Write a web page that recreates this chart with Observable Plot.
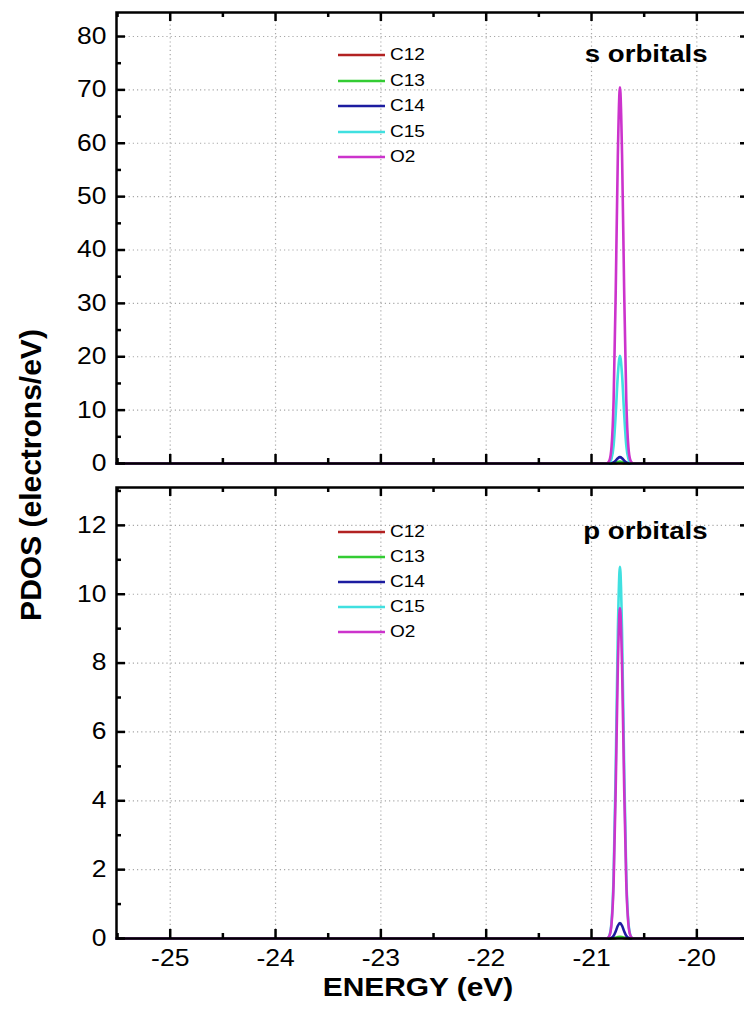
<!DOCTYPE html>
<html>
<head>
<meta charset="utf-8">
<script src="https://cdn.jsdelivr.net/npm/d3@7"></script>
<script src="https://cdn.jsdelivr.net/npm/@observablehq/plot@0.6"></script>
<style>
  html, body { margin: 0; padding: 0; background: #fff; overflow: hidden; }
  #wrap { position: relative; width: 744px; height: 1010px; overflow: hidden; font-family: "Liberation Sans", Arial, sans-serif; }
  .panel { position: absolute; left: 0; }
  .ylab { position: absolute; left: 31px; top: 475px; transform: translate(-50%, -50%) rotate(-90deg); font-weight: bold; font-size: 30px; white-space: nowrap; }
  .legend { position: absolute; left: 338px; font-size: 17px; }
  .legend .row { position: absolute; left: 0; display: flex; align-items: center; white-space: nowrap; transform: translateY(-50%); }
  .legend svg { margin-right: 5px; }
</style>
</head>
<body>
<div id="wrap"></div>
<script>
// ---------- data ----------
const seriesNames = ["C12", "C13", "C14", "C15", "O2"];
const seriesColors = ["#b22222", "#33cc33", "#1c1ca0", "#40e0e0", "#cc33cc"];

const energy = [-25.51, -20.87, -20.85, -20.83, -20.81, -20.79, -20.77, -20.75, -20.73, -20.71, -20.69, -20.67, -20.65, -20.63, -20.61, -20.59, -19.5];

// s orbitals
const sC12 = [0, 0, 0, 0, 0, 0.01, 0.02, 0.04, 0.05, 0.04, 0.02, 0.01, 0, 0, 0, 0, 0];
const sC13 = [0, 0, 0, 0, 0.02, 0.06, 0.16, 0.29, 0.35, 0.29, 0.16, 0.06, 0.02, 0, 0, 0, 0];
const sC14 = [0, 0, 0, 0.01, 0.05, 0.2, 0.55, 1.0, 1.2, 1.0, 0.55, 0.2, 0.05, 0.01, 0, 0, 0];
const sC15 = [0, 0, 0.02, 0.16, 0.9, 3.4, 9.3, 16.6, 20.2, 16.6, 9.3, 3.4, 0.9, 0.16, 0.02, 0, 0];
const sO2  = [0, 0, 0.06, 0.55, 3.1, 12, 32.4, 57.8, 70.5, 57.8, 32.4, 12, 3.1, 0.55, 0.06, 0, 0];

// p orbitals
const pC12 = [0, 0, 0, 0, 0, 0, 0.01, 0.02, 0.02, 0.02, 0.01, 0, 0, 0, 0, 0, 0];
const pC13 = [0, 0, 0, 0, 0, 0.01, 0.02, 0.04, 0.05, 0.04, 0.02, 0.01, 0, 0, 0, 0, 0];
const pC14 = [0, 0, 0, 0, 0.02, 0.08, 0.21, 0.37, 0.45, 0.37, 0.21, 0.08, 0.02, 0, 0, 0, 0];
const pC15 = [0, 0, 0.01, 0.09, 0.48, 1.84, 5.0, 8.9, 10.8, 8.9, 5.0, 1.84, 0.48, 0.09, 0.01, 0, 0];
const pO2  = [0, 0, 0.01, 0.08, 0.42, 1.63, 4.4, 7.9, 9.6, 7.9, 4.4, 1.63, 0.42, 0.08, 0.01, 0, 0];

// axes
const xDomain = [-25.51, -19.5];
const xTicks = [-25, -24, -23, -22, -21, -20];
const xMinor = [-25.5, -24.5, -23.5, -22.5, -21.5, -20.5, -19.5];
const sYDomain = [0, 84.5];
const sYTicks = [0, 10, 20, 30, 40, 50, 60, 70, 80];
const sYMinor = [5, 15, 25, 35, 45, 55, 65, 75];
const pYDomain = [0, 13.1];
const pYTicks = [0, 2, 4, 6, 8, 10, 12];
const pYMinor = [1, 3, 5, 7, 9, 11, 13];

const xLabel = "ENERGY (eV)";
const yLabel = "PDOS (electrons/eV)";
const sTitle = "s orbitals";
const pTitle = "p orbitals";

// ---------- build ----------
function toRows(arrays) {
  const rows = [];
  seriesNames.forEach((name, k) => {
    energy.forEach((e, i) => rows.push({series: name, e, v: arrays[k][i]}));
  });
  return rows;
}
const sRows = toRows([sC12, sC13, sC14, sC15, sO2]);
const pRows = toRows([pC12, pC13, pC14, pC15, pO2]);

const W = 744, ML = 116, MR = -5, MT = 12;
const innerW = W - ML - MR;
const innerH = 451;
const MAJ = 9, MIN = 5, TW = 2.5;
const STRETCH = 1.15;

function panel({rows, yDomain, yTicks, yMinor, title, titleDy, marginBottom, showX}) {
  const height = MT + innerH + marginBottom;
  const tickStyle = {strokeWidth: TW, stroke: "black"};
  const gridStyle = {stroke: "#a8a8a8", strokeOpacity: 1, strokeWidth: 1.2, strokeDasharray: "1.2,3"};
  const marks = [
    Plot.gridX(xTicks, gridStyle),
    Plot.gridY(yTicks.filter(d => d > 0), gridStyle),
    Plot.line(rows, {x: "e", y: "v", z: "series", stroke: "series", strokeWidth: 2.6, curve: "monotone-x"}),
    Plot.frame({stroke: "black", strokeWidth: TW}),
    // inward ticks: left / right
    Plot.tickY(yTicks, {y: d => d, insetRight: innerW - MAJ, ...tickStyle}),
    Plot.tickY(yMinor, {y: d => d, insetRight: innerW - MIN, ...tickStyle}),
    Plot.tickY(yTicks, {y: d => d, insetLeft: innerW - MAJ, ...tickStyle}),
    Plot.tickY(yMinor, {y: d => d, insetLeft: innerW - MIN, ...tickStyle}),
    // inward ticks: bottom / top
    Plot.tickX(xTicks, {x: d => d, insetTop: innerH - MAJ, ...tickStyle}),
    Plot.tickX(xMinor, {x: d => d, insetTop: innerH - MIN, ...tickStyle}),
    Plot.tickX(xTicks, {x: d => d, insetBottom: innerH - MAJ, ...tickStyle}),
    Plot.tickX(xMinor, {x: d => d, insetBottom: innerH - MIN, ...tickStyle}),
    Plot.axisY(yTicks, {tickSize: 0, tickPadding: 10, fontSize: 23, label: null}),
    Plot.text([title], {frameAnchor: "top-right", dx: -42, dy: titleDy, textAnchor: "end", fontWeight: "bold", fontSize: 24, fill: "black"})
  ];
  if (showX) {
    marks.push(Plot.axisX(xTicks, {tickSize: 0, tickPadding: 11, fontSize: 23, label: null, tickFormat: d => String(d)}));
    marks.push(Plot.text([xLabel], {frameAnchor: "bottom", dx: -15, dy: 57, fontWeight: "bold", fontSize: 26, fill: "black"}));
  }
  return Plot.plot({
    width: W, height,
    marginLeft: ML, marginRight: MR, marginTop: MT, marginBottom,
    x: {domain: xDomain, axis: showX ? undefined : null},
    y: {domain: yDomain},
    color: {domain: seriesNames, range: seriesColors},
    style: {fontFamily: "'Liberation Sans', Arial, sans-serif", color: "black", background: "white", overflow: "visible"},
    marks
  });
}

const wrap = document.getElementById("wrap");
const top1 = panel({rows: sRows, yDomain: sYDomain, yTicks: sYTicks, yMinor: sYMinor, title: sTitle, titleDy: 32, marginBottom: 12, showX: false});
top1.classList.add("panel"); top1.style.top = "0px";
const bot1 = panel({rows: pRows, yDomain: pYDomain, yTicks: pYTicks, yMinor: pYMinor, title: pTitle, titleDy: 34, marginBottom: 72, showX: true});
bot1.classList.add("panel"); bot1.style.top = "475px";
wrap.appendChild(top1);
wrap.appendChild(bot1);

// horizontal stretch of glyphs to match the reference's wide lettering
for (const svg of [top1, bot1]) {
  svg.querySelectorAll("text").forEach(t => {
    const w = t.getComputedTextLength();
    if (w > 0) { t.setAttribute("textLength", (w * STRETCH).toFixed(2)); t.setAttribute("lengthAdjust", "spacingAndGlyphs"); }
  });
}

// y label
const yl = document.createElement("div");
yl.className = "ylab"; yl.textContent = yLabel;
wrap.appendChild(yl);

// legends
function legend(top, gap) {
  const lg = document.createElement("div");
  lg.className = "legend"; lg.style.top = top + "px";
  seriesNames.forEach((name, i) => {
    const row = document.createElement("div");
    row.className = "row"; row.style.top = (i * gap) + "px";
    row.innerHTML = `<svg width="47" height="6"><line x1="0" y1="3" x2="47" y2="3" stroke="${seriesColors[i]}" stroke-width="2.6"/></svg><span style="display:inline-block;transform:scaleX(1.12);transform-origin:left center">${name}</span>`;
    lg.appendChild(row);
  });
  wrap.appendChild(lg);
}
legend(55, 25.5);
legend(532, 25);
</script>
</body>
</html>
